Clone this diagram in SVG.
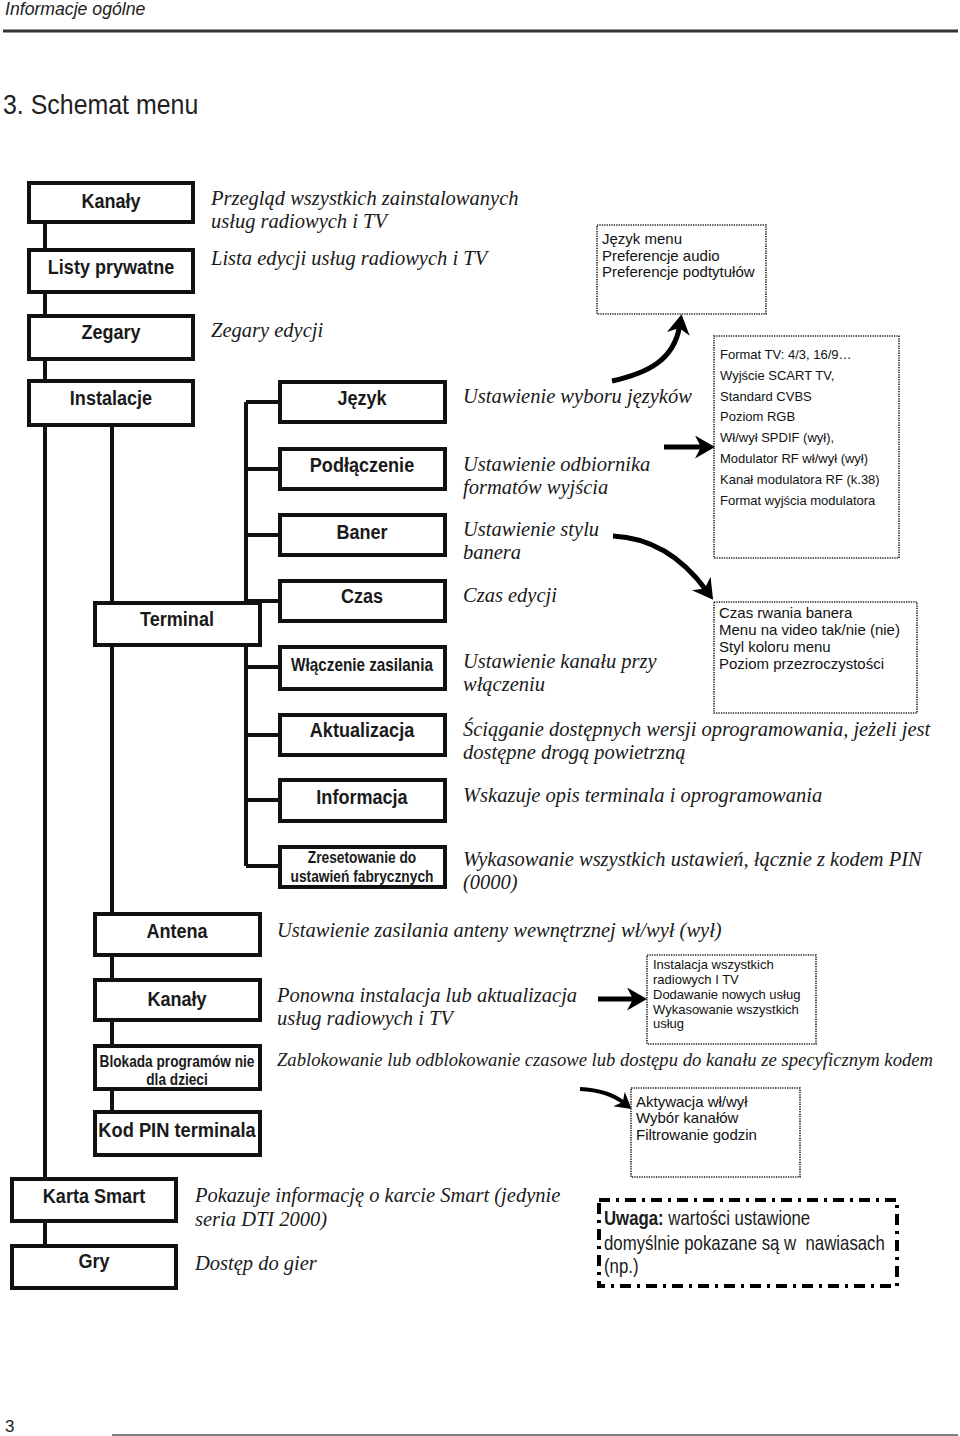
<svg xmlns="http://www.w3.org/2000/svg" width="960" height="1436" viewBox="0 0 960 1436">
<style>
.box{fill:#fff;stroke:#111;stroke-width:4}
.lbl{font-family:"Liberation Sans",Arial,sans-serif;font-weight:bold;font-size:21px;fill:#1a1a1a;text-anchor:middle}
.lbl2{font-family:"Liberation Sans",Arial,sans-serif;font-weight:bold;font-size:16px;fill:#1a1a1a;text-anchor:middle}
.desc{font-family:"Liberation Serif","Times New Roman",serif;font-style:italic;font-size:20.5px;fill:#1a1a1a}
.n15{font-family:"Liberation Sans",Arial,sans-serif;font-size:15px;fill:#111}
.n13{font-family:"Liberation Sans",Arial,sans-serif;font-size:13px;fill:#111}
.dot{fill:none;stroke:#222;stroke-width:1.6;stroke-dasharray:1.3 1.1}
.conn{stroke:#111;stroke-width:4;fill:none}
.arr{stroke:#000;stroke-width:5;fill:none;marker-end:url(#ah)}
</style>
<defs>
<marker id="ah" viewBox="0 0 20 23" refX="8" refY="11.5" markerWidth="20" markerHeight="23" markerUnits="userSpaceOnUse" orient="auto">
<path d="M0,0 L20,11.5 L0,23 L6,11.5 z" fill="#000"/>
</marker>
<marker id="ahs" viewBox="0 0 20 23" refX="8" refY="11.5" markerWidth="16" markerHeight="19" markerUnits="userSpaceOnUse" orient="auto">
<path d="M0,0 L20,11.5 L0,23 L6,11.5 z" fill="#000"/>
</marker>
</defs>
<rect width="960" height="1436" fill="#fff"/>

<!-- header -->
<text transform="translate(5,15) scale(0.93,1)" font-family="Liberation Sans, Arial, sans-serif" font-style="italic" font-size="19" fill="#222">Informacje ogólne</text>
<line x1="3" y1="31" x2="958" y2="31" stroke="#333" stroke-width="3"/>
<text transform="translate(3,114) scale(0.89,1)" font-family="Liberation Sans, Arial, sans-serif" font-size="28" fill="#222">3. Schemat menu</text>

<!-- connectors -->
<g id="connectors">
<path class="conn" d="M45 224V248M45 294V314M45 361V379M45 427V1177M45 1223V1244"/>
<path class="conn" d="M112 427V601M112 647V912M112 957V978M112 1022V1044M112 1091V1110"/>
<path class="conn" d="M246 402V866M246 402H278M246 469H278M246 535H278M246 601H278M246 667H278M246 735H278M246 800H278M246 866H278"/>
<path class="arr" d="M612 381 C648 373, 674 360, 679.6 326"/>
<path class="arr" d="M664 447 L703 447"/>
<path class="arr" d="M613 536 C655 538, 684 560, 706 590"/>
<path class="arr" d="M598 999 L635 999"/>
<path class="arr" style="stroke-width:4;marker-end:url(#ahs)" d="M580 1089 C600 1090, 614 1095, 624 1103"/>
</g>

<!-- main column -->
<g id="kanaly"><rect class="box" x="29" y="183" width="164" height="39"/><text class="lbl" transform="translate(111,208) scale(0.86,1)">Kanały</text></g>
<g id="listy"><rect class="box" x="29" y="250" width="164" height="42"/><text class="lbl" transform="translate(111,274) scale(0.86,1)">Listy prywatne</text></g>
<g id="zegary"><rect class="box" x="29" y="316" width="164" height="43"/><text class="lbl" transform="translate(111,339) scale(0.86,1)">Zegary</text></g>
<g id="instalacje"><rect class="box" x="29" y="381" width="164" height="44"/><text class="lbl" transform="translate(111,405) scale(0.86,1)">Instalacje</text></g>

<g id="jezyk"><rect class="box" x="280" y="382" width="165" height="40"/><text class="lbl" transform="translate(362,405) scale(0.86,1)">Język</text></g>
<g id="podlaczenie"><rect class="box" x="280" y="449" width="165" height="40"/><text class="lbl" transform="translate(362,472) scale(0.86,1)">Podłączenie</text></g>
<g id="baner"><rect class="box" x="280" y="515" width="165" height="40"/><text class="lbl" transform="translate(362,539) scale(0.86,1)">Baner</text></g>
<g id="czas"><rect class="box" x="280" y="581" width="165" height="40"/><text class="lbl" transform="translate(362,603) scale(0.86,1)">Czas</text></g>
<g id="terminal"><rect class="box" x="95" y="603" width="165" height="42"/><text class="lbl" transform="translate(177,626) scale(0.86,1)">Terminal</text></g>
<g id="wlaczenie"><rect class="box" x="280" y="647" width="165" height="42"/><text class="lbl" style="font-size:18px" transform="translate(362,671) scale(0.85,1)">Włączenie zasilania</text></g>
<g id="aktualizacja"><rect class="box" x="280" y="715" width="165" height="40"/><text class="lbl" transform="translate(362,737) scale(0.86,1)">Aktualizacja</text></g>
<g id="informacja"><rect class="box" x="280" y="780" width="165" height="41"/><text class="lbl" transform="translate(362,804) scale(0.86,1)">Informacja</text></g>
<g id="zresetowanie"><rect class="box" x="280" y="847" width="165" height="40"/><text class="lbl2" transform="translate(362,863) scale(0.86,1)">Zresetowanie do</text><text class="lbl2" transform="translate(362,882) scale(0.86,1)">ustawień fabrycznych</text></g>

<g id="antena"><rect class="box" x="95" y="914" width="165" height="41"/><text class="lbl" transform="translate(177,938) scale(0.86,1)">Antena</text></g>
<g id="kanaly2"><rect class="box" x="95" y="980" width="165" height="40"/><text class="lbl" transform="translate(177,1006) scale(0.86,1)">Kanały</text></g>
<g id="blokada"><rect class="box" x="95" y="1046" width="165" height="43"/><text class="lbl2" transform="translate(177,1067) scale(0.855,1)">Blokada programów nie</text><text class="lbl2" transform="translate(177,1085) scale(0.855,1)">dla dzieci</text></g>
<g id="kodpin"><rect class="box" x="95" y="1112" width="165" height="43"/><text class="lbl" transform="translate(177,1137) scale(0.87,1)">Kod PIN terminala</text></g>

<g id="karta"><rect class="box" x="12" y="1179" width="164" height="42"/><text class="lbl" transform="translate(94,1203) scale(0.86,1)">Karta Smart</text></g>
<g id="gry"><rect class="box" x="12" y="1246" width="164" height="42"/><text class="lbl" transform="translate(94,1268) scale(0.86,1)">Gry</text></g>

<!-- descriptions -->
<g id="descriptions" class="desc">
<text x="211" y="205">Przegląd wszystkich zainstalowanych</text>
<text x="211" y="228">usług radiowych i TV</text>
<text x="211" y="265">Lista edycji usług radiowych i TV</text>
<text x="211" y="337">Zegary edycji</text>
<text x="463" y="403">Ustawienie wyboru języków</text>
<text x="463" y="471">Ustawienie odbiornika</text>
<text x="463" y="494">formatów wyjścia</text>
<text x="463" y="536">Ustawienie stylu</text>
<text x="463" y="559">banera</text>
<text x="463" y="602">Czas edycji</text>
<text x="463" y="668">Ustawienie kanału przy</text>
<text x="463" y="691">włączeniu</text>
<text x="463" y="736">Ściąganie dostępnych wersji oprogramowania, jeżeli jest</text>
<text x="463" y="759">dostępne drogą powietrzną</text>
<text x="463" y="802">Wskazuje opis terminala i oprogramowania</text>
<text x="463" y="866">Wykasowanie wszystkich ustawień, łącznie z kodem PIN</text>
<text x="463" y="889">(0000)</text>
<text x="277" y="937">Ustawienie zasilania anteny wewnętrznej wł/wył (wył)</text>
<text x="277" y="1002">Ponowna instalacja lub aktualizacja</text>
<text x="277" y="1025">usług radiowych i TV</text>
<text x="277" y="1066" style="font-size:19px" textLength="656" lengthAdjust="spacingAndGlyphs">Zablokowanie lub odblokowanie czasowe lub dostępu do kanału ze specyficznym kodem</text>
<text x="195" y="1202">Pokazuje informację o karcie Smart (jedynie</text>
<text x="195" y="1226">seria DTI 2000)</text>
<text x="195" y="1270">Dostęp do gier</text>
</g>

<!-- dotted option boxes -->
<g id="opt-jezyk"><rect class="dot" x="597" y="225" width="169" height="89"/>
<text class="n15" x="602" y="244">Język menu</text>
<text class="n15" x="602" y="261">Preferencje audio</text>
<text class="n15" x="602" y="277">Preferencje podtytułów</text></g>

<g id="opt-podlaczenie"><rect class="dot" x="714" y="336" width="185" height="222"/>
<text class="n13" x="720" y="359">Format TV: 4/3, 16/9…</text>
<text class="n13" x="720" y="380">Wyjście SCART TV,</text>
<text class="n13" x="720" y="401">Standard CVBS</text>
<text class="n13" x="720" y="421">Poziom RGB</text>
<text class="n13" x="720" y="442">Wł/wył SPDIF (wył),</text>
<text class="n13" x="720" y="463">Modulator RF wł/wył (wył)</text>
<text class="n13" x="720" y="484">Kanał modulatora RF (k.38)</text>
<text class="n13" x="720" y="505">Format wyjścia modulatora</text></g>

<g id="opt-baner"><rect class="dot" x="714" y="602" width="203" height="111"/>
<text class="n15" x="719" y="618">Czas rwania banera</text>
<text class="n15" x="719" y="635">Menu na video tak/nie (nie)</text>
<text class="n15" x="719" y="652">Styl koloru menu</text>
<text class="n15" x="719" y="669">Poziom przezroczystości</text></g>

<g id="opt-kanaly"><rect class="dot" x="647" y="955" width="169" height="89"/>
<text class="n13" x="653" y="969">Instalacja wszystkich</text>
<text class="n13" x="653" y="984">radiowych I TV</text>
<text class="n13" x="653" y="999">Dodawanie nowych usług</text>
<text class="n13" x="653" y="1014">Wykasowanie wszystkich</text>
<text class="n13" x="653" y="1028">usług</text></g>

<g id="opt-blokada"><rect class="dot" x="631" y="1088" width="169" height="89"/>
<text class="n15" x="636" y="1107">Aktywacja wł/wył</text>
<text class="n15" x="636" y="1123">Wybór kanałów</text>
<text class="n15" x="636" y="1140">Filtrowanie godzin</text></g>

<g id="uwaga"><rect x="599" y="1200" width="298" height="86" fill="none" stroke="#000" stroke-width="4" stroke-dasharray="11 6 3 6"/>
<g font-family="Liberation Sans, Arial, sans-serif" font-size="20" fill="#1a1a1a">
<text transform="translate(604,1225) scale(0.84,1)"><tspan font-weight="bold">Uwaga:</tspan> wartości ustawione</text>
<text transform="translate(604,1250) scale(0.84,1)" xml:space="preserve">domyślnie pokazane są w  nawiasach</text>
<text transform="translate(604,1273) scale(0.84,1)">(np.)</text>
</g></g>

<!-- footer -->
<text x="5" y="1432" font-family="Liberation Sans, Arial, sans-serif" font-size="17" fill="#222">3</text>
<line x1="112" y1="1435" x2="958" y2="1435" stroke="#555" stroke-width="1.5"/>
</svg>
